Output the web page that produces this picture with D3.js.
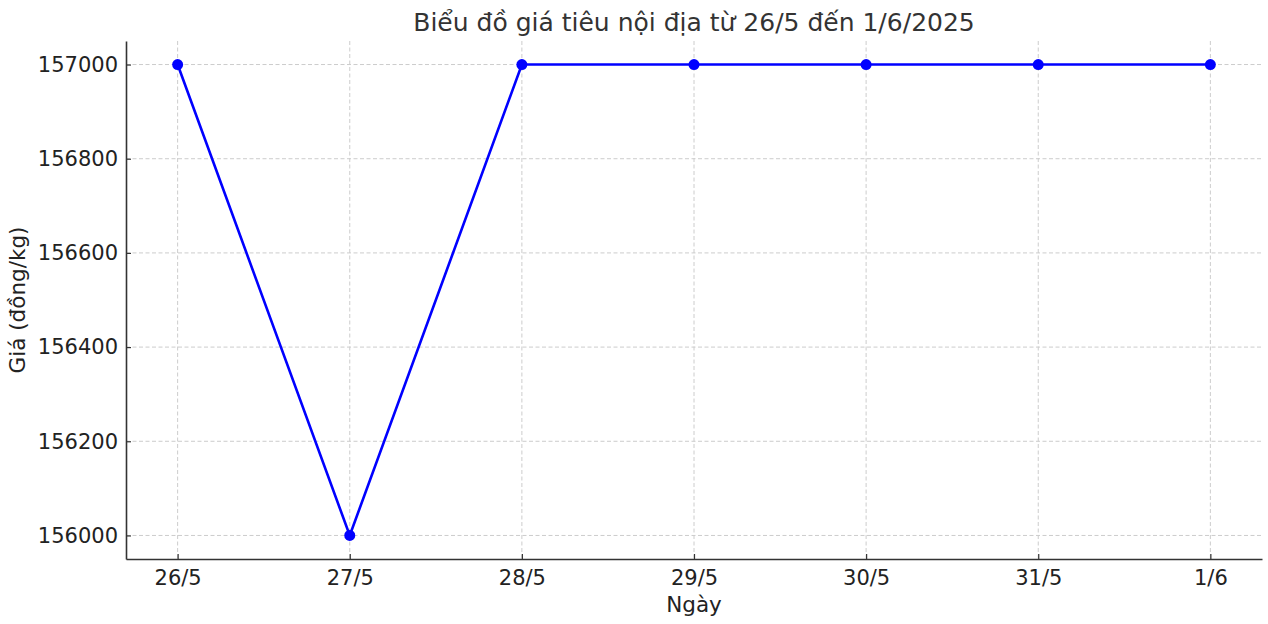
<!DOCTYPE html>
<html>
<head>
<meta charset="utf-8">
<script src="https://cdn.jsdelivr.net/npm/d3@7"></script>
<style>
  body { margin: 0; background: #fff; }
  svg text { font-family: "DejaVu Sans", sans-serif; }
</style>
</head>
<body>
<div id="chart"></div>
<script>
// data
var days = ["26/5", "27/5", "28/5", "29/5", "30/5", "31/5", "1/6"];
var prices = [157000, 156000, 157000, 157000, 157000, 157000, 157000];
var yTicks = [156000, 156200, 156400, 156600, 156800, 157000];

var svgWidth = 1268;
var svgHeight = 624;

var margin = { top: 41, right: 6, bottom: 65, left: 126 };
var width = svgWidth - margin.left - margin.right;
var height = svgHeight - margin.top - margin.bottom;

var svg = d3.select("#chart")
  .append("svg")
  .attr("width", svgWidth)
  .attr("height", svgHeight);

var chartGroup = svg.append("g")
  .attr("transform", `translate(${margin.left}, ${margin.top})`);

// x: index scale with matplotlib-like 5% padding
var n = days.length;
var xScale = d3.scaleLinear()
  .domain([-0.05 * (n - 1), (n - 1) * 1.05])
  .range([0, width]);

var yMin = d3.min(prices), yMax = d3.max(prices);
var pad = (yMax - yMin) * 0.05;
var yScale = d3.scaleLinear()
  .domain([yMin - pad, yMax + pad])
  .range([height, 0]);

// grid
chartGroup.append("g")
  .selectAll("line")
  .data(yTicks)
  .enter()
  .append("line")
  .attr("x1", 0)
  .attr("x2", width)
  .attr("y1", d => yScale(d))
  .attr("y2", d => yScale(d))
  .attr("stroke", "#cccccc")
  .attr("stroke-width", 1)
  .attr("stroke-dasharray", "4,2.5");

chartGroup.append("g")
  .selectAll("line")
  .data(days)
  .enter()
  .append("line")
  .attr("y1", 0)
  .attr("y2", height)
  .attr("x1", (d, i) => xScale(i))
  .attr("x2", (d, i) => xScale(i))
  .attr("stroke", "#cccccc")
  .attr("stroke-width", 1)
  .attr("stroke-dasharray", "4,2.5");

// axes (ticks pointing inward)
var xAxis = d3.axisBottom(xScale)
  .tickValues(d3.range(n))
  .tickFormat(i => days[i])
  .tickSizeInner(-5)
  .tickSizeOuter(0)
  .tickPadding(11);

var yAxis = d3.axisLeft(yScale)
  .tickValues(yTicks)
  .tickFormat(d3.format("d"))
  .tickSizeInner(-5)
  .tickSizeOuter(0)
  .tickPadding(8);

var gx = chartGroup.append("g")
  .attr("transform", `translate(0, ${height})`)
  .call(xAxis);

var gy = chartGroup.append("g")
  .call(yAxis);

[gx, gy].forEach(function(g) {
  g.select(".domain").attr("stroke", "#333").attr("stroke-width", 1.6);
  g.selectAll(".tick line").attr("stroke", "#333").attr("stroke-width", 1.2);
  g.selectAll(".tick text")
    .attr("fill", "#222")
    .attr("font-size", "21px");
});

// line + markers
var line = d3.line()
  .x((d, i) => xScale(i))
  .y(d => yScale(d));

chartGroup.append("path")
  .datum(prices)
  .attr("d", line)
  .attr("fill", "none")
  .attr("stroke", "#0000ff")
  .attr("stroke-width", 2.6);

chartGroup.selectAll("circle")
  .data(prices)
  .enter()
  .append("circle")
  .attr("cx", (d, i) => xScale(i))
  .attr("cy", d => yScale(d))
  .attr("r", 5.5)
  .attr("fill", "#0000ff");

// labels
svg.append("text")
  .attr("x", margin.left + width / 2)
  .attr("y", 31)
  .attr("text-anchor", "middle")
  .attr("font-size", "25px")
  .attr("fill", "#333")
  .text("Biểu đồ giá tiêu nội địa từ 26/5 đến 1/6/2025");

svg.append("text")
  .attr("x", margin.left + width / 2)
  .attr("y", 612)
  .attr("text-anchor", "middle")
  .attr("font-size", "21.5px")
  .attr("fill", "#222")
  .text("Ngày");

svg.append("text")
  .attr("transform", `translate(25, ${margin.top + height / 2}) rotate(-90)`)
  .attr("text-anchor", "middle")
  .attr("font-size", "21.5px")
  .attr("fill", "#222")
  .text("Giá (đồng/kg)");
</script>
</body>
</html>
